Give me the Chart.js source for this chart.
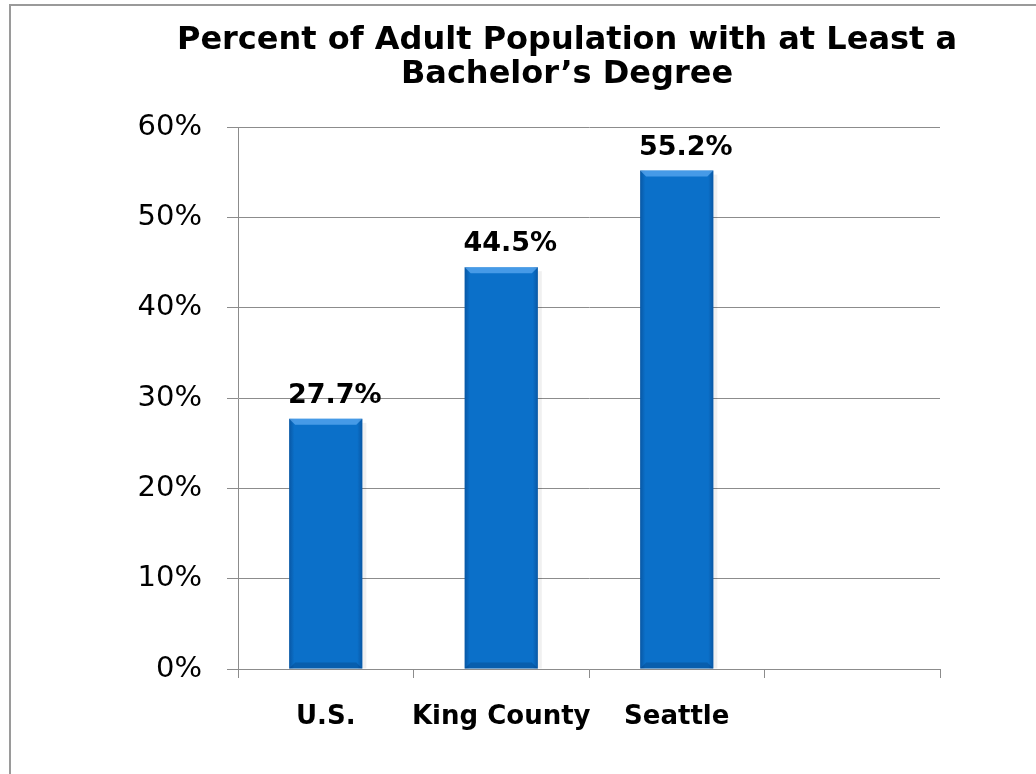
<!DOCTYPE html>
<html>
<head>
<meta charset="utf-8">
<script src="https://cdn.jsdelivr.net/npm/chart.js@4/dist/chart.umd.min.js"></script>
<style>
  html, body { margin: 0; padding: 0; background: #fff; overflow: hidden; }
  #wrap { position: relative; width: 1036px; height: 774px; }
  #frame { position: absolute; left: 9px; top: 4px; width: 1100px; height: 900px;
           border-left: 2px solid #9a9a9a; border-top: 2px solid #9a9a9a; box-sizing: border-box; }
  canvas { position: absolute; left: 0; top: 0; }
</style>
</head>
<body>
<div id="wrap">
  <div id="frame"></div>
  <canvas id="c" width="1036" height="774"></canvas>
</div>
<script>
const titleLines = ['Percent of Adult Population with at Least a', 'Bachelor\u2019s Degree'];
const categories = ['U.S.', 'King County', 'Seattle', ''];
const shareWithDegree = [27.7, 44.5, 55.2, null];
const valueLabels = ['27.7%', '44.5%', '55.2%', ''];
const yTicks = [0, 10, 20, 30, 40, 50, 60];

const BLUE = '#0b70c9';
const GRID = '#8c8c8c';

const bevelAndLabels = {
  id: 'bevelAndLabels',
  afterDatasetsDraw(chart) {
    const ctx = chart.ctx;
    const meta = chart.getDatasetMeta(0);
    meta.data.forEach((bar, i) => {
      const v = shareWithDegree[i];
      if (v === null || v === undefined) return;
      const { x, y, base, width } = bar.getProps(['x', 'y', 'base', 'width'], true);
      const l = x - width / 2, r = x + width / 2;
      ctx.save();
      // side shading
      const g = ctx.createLinearGradient(l, 0, r, 0);
      g.addColorStop(0, 'rgba(0,30,80,0.30)');
      g.addColorStop(0.07, 'rgba(0,30,80,0.0)');
      g.addColorStop(0.93, 'rgba(0,30,80,0.0)');
      g.addColorStop(1, 'rgba(0,30,80,0.30)');
      ctx.fillStyle = g;
      ctx.fillRect(l, y, width, base - y);
      // top bevel highlight
      const b = 6;
      ctx.beginPath();
      ctx.moveTo(l, y); ctx.lineTo(r, y); ctx.lineTo(r - b, y + b); ctx.lineTo(l + b, y + b); ctx.closePath();
      ctx.fillStyle = 'rgba(120,190,255,0.55)';
      ctx.fill();
      // bottom bevel shade
      ctx.beginPath();
      ctx.moveTo(l, base); ctx.lineTo(r, base); ctx.lineTo(r - b, base - b); ctx.lineTo(l + b, base - b); ctx.closePath();
      ctx.fillStyle = 'rgba(0,40,90,0.25)';
      ctx.fill();
      // soft shadow on right
      ctx.fillStyle = 'rgba(0,0,0,0.06)';
      ctx.fillRect(r, y + 4, 4, base - y - 4);
      // value label
      ctx.fillStyle = '#000';
      ctx.font = 'bold 27px "DejaVu Sans"';
      ctx.textAlign = 'center';
      ctx.textBaseline = 'alphabetic';
      ctx.fillText(valueLabels[i], x + 9, y - 16);
      ctx.restore();
    });
  }
};

new Chart(document.getElementById('c'), {
  type: 'bar',
  data: {
    labels: categories,
    datasets: [{
      data: shareWithDegree,
      backgroundColor: BLUE,
      borderWidth: 0,
      barPercentage: 0.417,
      categoryPercentage: 1.0
    }]
  },
  options: {
    responsive: false,
    animation: false,
    devicePixelRatio: 1,
    layout: { padding: { left: 98, right: 0, top: 0, bottom: 0 } },
    plugins: {
      legend: { display: false },
      tooltip: { enabled: false },
      title: {
        display: true,
        text: titleLines,
        color: '#000',
        font: { family: 'DejaVu Sans', size: 32, weight: 'bold', lineHeight: 1.05 },
        padding: { top: 24, bottom: 36 }
      }
    },
    scales: {
      x: {
        offset: true,
        grid: { display: true, drawOnChartArea: false, drawTicks: true, tickLength: 9, color: GRID, offset: true },
        border: { display: true, color: GRID, width: 1 },
        ticks: { color: '#000', font: { family: 'DejaVu Sans', size: 26, weight: 'bold' }, padding: 24, maxRotation: 0, autoSkip: false },
        afterFit(scale) { scale.height = 105; }
      },
      y: {
        min: 0, max: 60,
        afterBuildTicks(scale) { scale.ticks = yTicks.map(v => ({ value: v })); },
        grid: { color: GRID, lineWidth: 1, drawTicks: true, tickLength: 11 },
        border: { display: true, color: GRID, width: 1 },
        ticks: { color: '#000', font: { family: 'DejaVu Sans', size: 29 }, padding: 25, callback: v => v + '%' },
        afterFit(scale) { scale.width = 140; }
      },
      yR: {
        position: 'right',
        display: true,
        grid: { display: false, drawTicks: false },
        border: { display: false },
        ticks: { display: false },
        afterFit(scale) { scale.width = 96; }
      }
    }
  },
  plugins: [bevelAndLabels]
});
</script>
</body>
</html>
